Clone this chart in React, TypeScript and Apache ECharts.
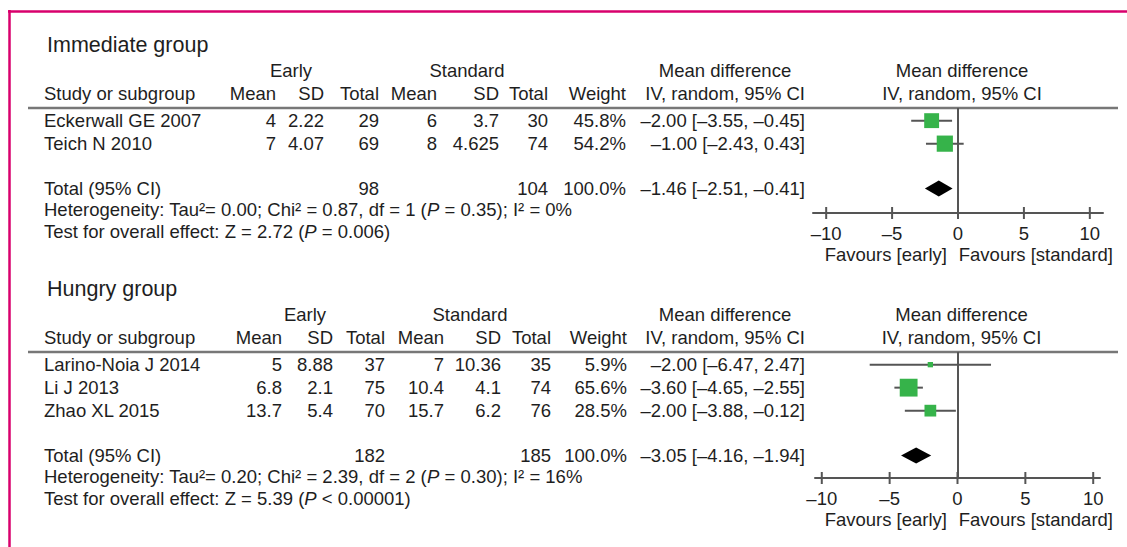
import React, { useEffect, useRef } from "react";
import * as echarts from "echarts";

const FONT = '"Liberation Sans", Arial, Helvetica, sans-serif';
const TEXT = "#1e1e1e";
const GREEN = "#36b34a";
const GRAY = "#555555";
const FS = 18.5;

// ---------- Immediate group ----------
const immStudies = ["Eckerwall GE 2007", "Teich N 2010"];
const immEarlyMean = ["4", "7"];
const immEarlySD = ["2.22", "4.07"];
const immEarlyTotal = ["29", "69"];
const immStdMean = ["6", "8"];
const immStdSD = ["3.7", "4.625"];
const immStdTotal = ["30", "74"];
const immWeight = [45.8, 54.2];
const immMD = [-2.0, -1.0];
const immLo = [-3.55, -2.43];
const immHi = [-0.45, 0.43];
const immTotals = ["98", "104", "100.0%"];
const immPooled = [-1.46, -2.51, -0.41];
const immHetero = ["0.00", "0.87", "1", "0.35", "0%"];
const immTest = ["2.72", "= 0.006"];

// ---------- Hungry group ----------
const hunStudies = ["Larino-Noia J 2014", "Li J 2013", "Zhao XL 2015"];
const hunEarlyMean = ["5", "6.8", "13.7"];
const hunEarlySD = ["8.88", "2.1", "5.4"];
const hunEarlyTotal = ["37", "75", "70"];
const hunStdMean = ["7", "10.4", "15.7"];
const hunStdSD = ["10.36", "4.1", "6.2"];
const hunStdTotal = ["35", "74", "76"];
const hunWeight = [5.9, 65.6, 28.5];
const hunMD = [-2.0, -3.6, -2.0];
const hunLo = [-6.47, -4.65, -3.88];
const hunHi = [2.47, -2.55, -0.12];
const hunTotals = ["182", "185", "100.0%"];
const hunPooled = [-3.05, -4.16, -1.94];
const hunHetero = ["0.20", "2.39", "2", "0.30", "16%"];
const hunTest = ["5.39", "< 0.00001"];

const tickValues = [-10, -5, 0, 5, 10];

const fmt = (v: number) => {
  const s = Math.abs(v).toFixed(2);
  return v < 0 ? "\u2013" + s : s;
};
const ciText = (m: number, l: number, h: number) => `${fmt(m)} [${fmt(l)}, ${fmt(h)}]`;

const ROW_H = 23;

const panels = [
  {
    title: "Immediate group",
    studies: immStudies,
    eMean: immEarlyMean,
    eSD: immEarlySD,
    eTot: immEarlyTotal,
    sMean: immStdMean,
    sSD: immStdSD,
    sTot: immStdTotal,
    weight: immWeight,
    md: immMD,
    lo: immLo,
    hi: immHi,
    totals: immTotals,
    pooled: immPooled,
    het: immHetero,
    test: immTest,
    // layout
    lineY: 108,
    axisY: 213,
    gridLeft: 813,
    gridRight: 1103,
    xMin: -11,
    xMax: 11,
    cols: [276, 324, 379, 437, 499, 548, 626, 805],
    earlyX: 291,
    stdX: 467,
  },
  {
    title: "Hungry group",
    studies: hunStudies,
    eMean: hunEarlyMean,
    eSD: hunEarlySD,
    eTot: hunEarlyTotal,
    sMean: hunStdMean,
    sSD: hunStdSD,
    sTot: hunStdTotal,
    weight: hunWeight,
    md: hunMD,
    lo: hunLo,
    hi: hunHi,
    totals: hunTotals,
    pooled: hunPooled,
    het: hunHetero,
    test: hunTest,
    lineY: 352,
    axisY: 478,
    gridLeft: 815,
    gridRight: 1100,
    xMin: -10.5,
    xMax: 10.5,
    cols: [282, 333, 385, 444, 501, 551, 627, 805],
    earlyX: 305,
    stdX: 470,
  },
];

function txt(x: number, y: number, text: string, align = "left", size = FS, extra: any = {}) {
  return {
    type: "text",
    x,
    y,
    silent: true,
    style: {
      text,
      fill: TEXT,
      fontSize: size,
      fontFamily: FONT,
      textAlign: align,
      align,
      textVerticalAlign: "middle",
      verticalAlign: "middle",
      ...extra,
    },
  };
}

export default function App() {
  const ref = useRef<HTMLDivElement>(null);

  useEffect(() => {
    if (!ref.current) return;
    const chart = echarts.init(ref.current, undefined, { renderer: "svg" });

    const grids: any[] = [];
    const xAxes: any[] = [];
    const yAxes: any[] = [];
    const series: any[] = [];
    const graphics: any[] = [];

    // pink frame (top and left)
    graphics.push({
      type: "line",
      silent: true,
      shape: { x1: 8, y1: 11.5, x2: 1127, y2: 11.5 },
      style: { stroke: "#d8006c", lineWidth: 2.5 },
    });
    graphics.push({
      type: "line",
      silent: true,
      shape: { x1: 9.5, y1: 10, x2: 9.5, y2: 547 },
      style: { stroke: "#d8006c", lineWidth: 2.5 },
    });

    panels.forEach((p, k) => {
      const n = p.studies.length;
      const yMax = (p.axisY - p.lineY) / ROW_H;
      grids.push({
        left: p.gridLeft,
        width: p.gridRight - p.gridLeft,
        top: p.lineY,
        height: p.axisY - p.lineY,
        containLabel: false,
      });
      xAxes.push({
        type: "value",
        gridIndex: k,
        min: p.xMin,
        max: p.xMax,
        position: "bottom",
        splitLine: { show: false },
        axisLine: { show: true, onZero: false, lineStyle: { color: GRAY, width: 2 } },
        axisTick: { show: false },
        axisLabel: {
          show: true,
          customValues: tickValues,
          margin: 11,
          fontSize: FS,
          fontFamily: FONT,
          color: TEXT,
          formatter: (v: number) => (v < 0 ? "\u2013" + Math.abs(v) : String(v)),
        },
      });
      yAxes.push({
        type: "value",
        gridIndex: k,
        min: 0,
        max: yMax,
        inverse: true,
        show: false,
      });

      const rowY = (i: number) => i + 0.55;
      const totV = n + 1.5;

      // crossing axis ticks
      series.push({
        type: "custom",
        xAxisIndex: k,
        yAxisIndex: k,
        z: 4,
        clip: false,
        data: tickValues.map((v) => [v, yMax]),
        encode: { x: 0, y: 1 },
        renderItem: (params: any, api: any) => {
          const pt = api.coord([api.value(0), api.value(1)]);
          return {
            type: "line",
            shape: { x1: pt[0], y1: pt[1] - 6, x2: pt[0], y2: pt[1] + 6 },
            style: { stroke: GRAY, lineWidth: 2 },
          };
        },
      });

      // confidence interval whiskers
      series.push({
        type: "custom",
        xAxisIndex: k,
        yAxisIndex: k,
        z: 2,
        data: p.studies.map((_, i) => [p.lo[i], p.hi[i], rowY(i)]),
        encode: { x: [0, 1], y: 2 },
        renderItem: (params: any, api: any) => {
          const a = api.coord([api.value(0), api.value(2)]);
          const b = api.coord([api.value(1), api.value(2)]);
          return {
            type: "line",
            shape: { x1: a[0], y1: a[1], x2: b[0], y2: b[1] },
            style: { stroke: GRAY, lineWidth: 2 },
          };
        },
        markLine: {
          silent: true,
          symbol: "none",
          label: { show: false },
          lineStyle: { color: GRAY, width: 2, type: "solid" },
          data: [{ xAxis: 0 }],
        },
      });
      // weighted squares
      series.push({
        type: "scatter",
        xAxisIndex: k,
        yAxisIndex: k,
        z: 3,
        symbol: "rect",
        symbolSize: (val: number[]) => 2.2 * Math.sqrt(val[2]),
        itemStyle: { color: GREEN, opacity: 1 },
        data: p.md.map((v, i) => [v, rowY(i), p.weight[i]]),
      });
      // pooled diamond
      series.push({
        type: "custom",
        xAxisIndex: k,
        yAxisIndex: k,
        z: 3,
        data: [[p.pooled[1], p.pooled[0], p.pooled[2], totV]],
        encode: { x: [0, 1, 2], y: 3 },
        renderItem: (params: any, api: any) => {
          const y = api.value(3);
          const l = api.coord([api.value(0), y]);
          const m = api.coord([api.value(1), y]);
          const r = api.coord([api.value(2), y]);
          const h = 8;
          return {
            type: "polygon",
            shape: {
              points: [
                [l[0], l[1]],
                [m[0], m[1] - h],
                [r[0], r[1]],
                [m[0], m[1] + h],
              ],
            },
            style: { fill: "#000" },
          };
        },
      });

      // ---------- table text ----------
      const L = p.lineY;
      const c = p.cols;
      const ry = (v: number) => L + v * ROW_H;
      const center = (p.gridLeft + p.gridRight) / 2 + 4;

      graphics.push({
        type: "line",
        silent: true,
        shape: { x1: 28, y1: L, x2: 1118, y2: L },
        style: { stroke: "#777", lineWidth: 2.5 },
      });

      graphics.push(txt(47, L - 63, p.title, "left", 21.5));
      graphics.push(txt(p.earlyX, L - 38, "Early", "center"));
      graphics.push(txt(p.stdX, L - 38, "Standard", "center"));
      graphics.push(txt(725, L - 38, "Mean difference", "center"));
      graphics.push(txt(center, L - 38, "Mean difference", "center"));

      const hy = L - 15;
      graphics.push(txt(44, hy, "Study or subgroup"));
      graphics.push(txt(c[0], hy, "Mean", "right"));
      graphics.push(txt(c[1], hy, "SD", "right"));
      graphics.push(txt(c[2], hy, "Total", "right"));
      graphics.push(txt(c[3], hy, "Mean", "right"));
      graphics.push(txt(c[4], hy, "SD", "right"));
      graphics.push(txt(c[5], hy, "Total", "right"));
      graphics.push(txt(c[6], hy, "Weight", "right"));
      graphics.push(txt(c[7], hy, "IV, random, 95% CI", "right"));
      graphics.push(txt(center, hy, "IV, random, 95% CI", "center"));

      p.studies.forEach((s, i) => {
        const y = ry(rowY(i));
        graphics.push(txt(44, y, s));
        graphics.push(txt(c[0], y, p.eMean[i], "right"));
        graphics.push(txt(c[1], y, p.eSD[i], "right"));
        graphics.push(txt(c[2], y, p.eTot[i], "right"));
        graphics.push(txt(c[3], y, p.sMean[i], "right"));
        graphics.push(txt(c[4], y, p.sSD[i], "right"));
        graphics.push(txt(c[5], y, p.sTot[i], "right"));
        graphics.push(txt(c[6], y, p.weight[i].toFixed(1) + "%", "right"));
        graphics.push(txt(c[7], y, ciText(p.md[i], p.lo[i], p.hi[i]), "right"));
      });

      const ty = ry(totV);
      graphics.push(txt(44, ty, "Total (95% CI)"));
      graphics.push(txt(c[2], ty, p.totals[0], "right"));
      graphics.push(txt(c[5], ty, p.totals[1], "right"));
      graphics.push(txt(c[6], ty, p.totals[2], "right"));
      graphics.push(txt(c[7], ty, ciText(p.pooled[0], p.pooled[1], p.pooled[2]), "right"));

      const rich = { i: { fontStyle: "italic", fontSize: FS, fontFamily: FONT, fill: TEXT, color: TEXT } };
      const h = p.het;
      graphics.push(
        txt(
          44,
          ty + 21,
          `Heterogeneity: Tau\u00b2= ${h[0]}; Chi\u00b2 = ${h[1]}, df = ${h[2]} ({i|P} = ${h[3]}); I\u00b2 = ${h[4]}`,
          "left",
          FS,
          { rich }
        )
      );
      graphics.push(
        txt(44, ty + 43, `Test for overall effect: Z = ${p.test[0]} ({i|P} ${p.test[1]})`, "left", FS, { rich })
      );

      graphics.push(txt(947, p.axisY + 41, "Favours [early]", "right"));
      graphics.push(txt(1113, p.axisY + 41, "Favours [standard]", "right"));
    });

    chart.setOption({
      animation: false,
      backgroundColor: "#ffffff",
      grid: grids,
      xAxis: xAxes,
      yAxis: yAxes,
      series,
      graphic: { elements: graphics },
    });

    return () => chart.dispose();
  }, []);

  return (
    <div
      ref={ref}
      style={{ position: "absolute", left: 0, top: 0, width: 1127, height: 547, background: "#fff" }}
    />
  );
}
